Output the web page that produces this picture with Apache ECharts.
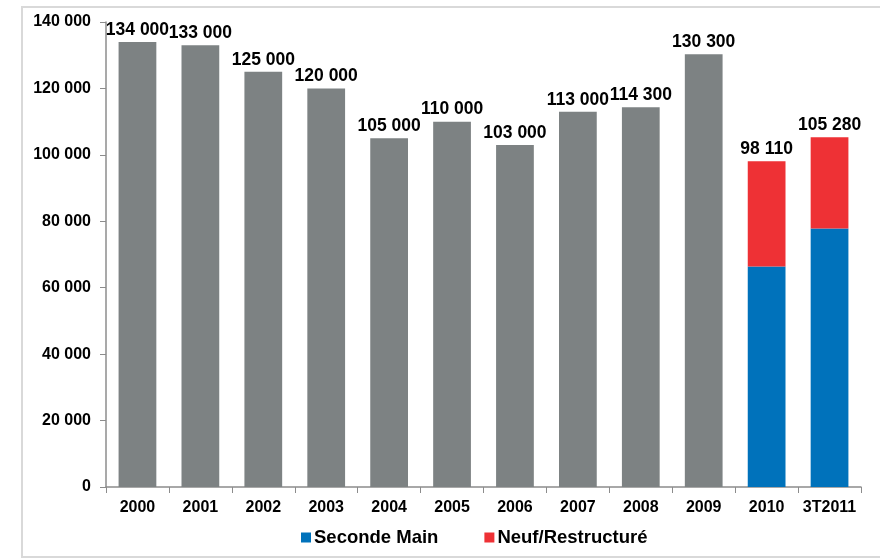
<!DOCTYPE html>
<html>
<head>
<meta charset="utf-8">
<script src="https://cdn.jsdelivr.net/npm/echarts@6/dist/echarts.min.js"></script>
<style>
  html, body { margin: 0; padding: 0; background: #fff; }
  #chart { width: 880px; height: 559px; }
</style>
</head>
<body>
<div id="chart"></div>
<script>
// catégories et valeurs
const categories = ['2000', '2001', '2002', '2003', '2004', '2005', '2006', '2007', '2008', '2009', '2010', '3T2011'];
const totalValues = [134000, 133000, 125000, 120000, 105000, 110000, 103000, 113000, 114300, 130300, '-', '-'];
const secondeMain = ['-', '-', '-', '-', '-', '-', '-', '-', '-', '-', 66400, 77800];
const neufRestructure = ['-', '-', '-', '-', '-', '-', '-', '-', '-', '-', 31710, 27480];
const stackTotals = [null, null, null, null, null, null, null, null, null, null, 98110, 105280];

function fmt(v) {
  return String(v).replace(/\B(?=(\d{3})+(?!\d))/g, ' ');
}

const labelStyle = {
  show: true,
  position: 'top',
  distance: 3,
  color: '#000',
  fontWeight: 'bold',
  fontSize: 17.5,
  fontFamily: 'Liberation Sans, Arial, sans-serif'
};

function drawChart() {
  let myChart = echarts.init(document.getElementById('chart'));
  let option = {
    animation: false,
    graphic: [{
      type: 'rect',
      shape: { x: 22, y: 7, width: 900, height: 550 },
      style: { fill: 'none', stroke: '#d9d9d9', lineWidth: 2 },
      z: -1
    }],
    legend: {
      data: ['Seconde Main', 'Neuf/Restructuré'],
      bottom: 7,
      left: 296,
      itemWidth: 10,
      itemHeight: 10,
      itemGap: 46,
      icon: 'rect',
      textStyle: {
        fontSize: 18.5,
        fontWeight: 'bold',
        color: '#000',
        fontFamily: 'Liberation Sans, Arial, sans-serif',
        padding: [0, 0, 0, -2]
      }
    },
    grid: {
      left: 106,
      right: 19,
      top: 22,
      bottom: 72
    },
    xAxis: {
      type: 'category',
      data: categories,
      axisLine: { lineStyle: { color: '#8c8c8c', width: 1.5 } },
      axisTick: { show: true, interval: 0, length: 6, lineStyle: { color: '#8c8c8c' } },
      axisLabel: {
        interval: 0,
        color: '#000',
        fontWeight: 'bold',
        fontSize: 16,
        margin: 13,
        fontFamily: 'Liberation Sans, Arial, sans-serif'
      }
    },
    yAxis: {
      type: 'value',
      min: 0,
      max: 140000,
      interval: 20000,
      axisLine: { show: true, lineStyle: { color: '#8c8c8c', width: 1.5 } },
      axisTick: { show: true, length: 6, lineStyle: { color: '#8c8c8c' } },
      splitLine: { show: false },
      axisLabel: {
        color: '#000',
        fontWeight: 'bold',
        fontSize: 16,
        margin: 15,
        fontFamily: 'Liberation Sans, Arial, sans-serif',
        formatter: fmt
      }
    },
    series: [
      {
        name: 'Total',
        type: 'bar',
        stack: 'a',
        barWidth: '60%',
        data: totalValues,
        itemStyle: { color: '#7d8283' },
        label: Object.assign({}, labelStyle, {
          formatter: p => fmt(p.value)
        })
      },
      {
        name: 'Seconde Main',
        type: 'bar',
        stack: 'a',
        data: secondeMain,
        itemStyle: { color: '#0072bb' }
      },
      {
        name: 'Neuf/Restructuré',
        type: 'bar',
        stack: 'a',
        data: neufRestructure,
        itemStyle: { color: '#ee3135' },
        label: Object.assign({}, labelStyle, {
          formatter: p => stackTotals[p.dataIndex] ? fmt(stackTotals[p.dataIndex]) : ''
        })
      }
    ]
  };
  option && myChart.setOption(option);
  return myChart;
}

drawChart();
</script>
</body>
</html>
